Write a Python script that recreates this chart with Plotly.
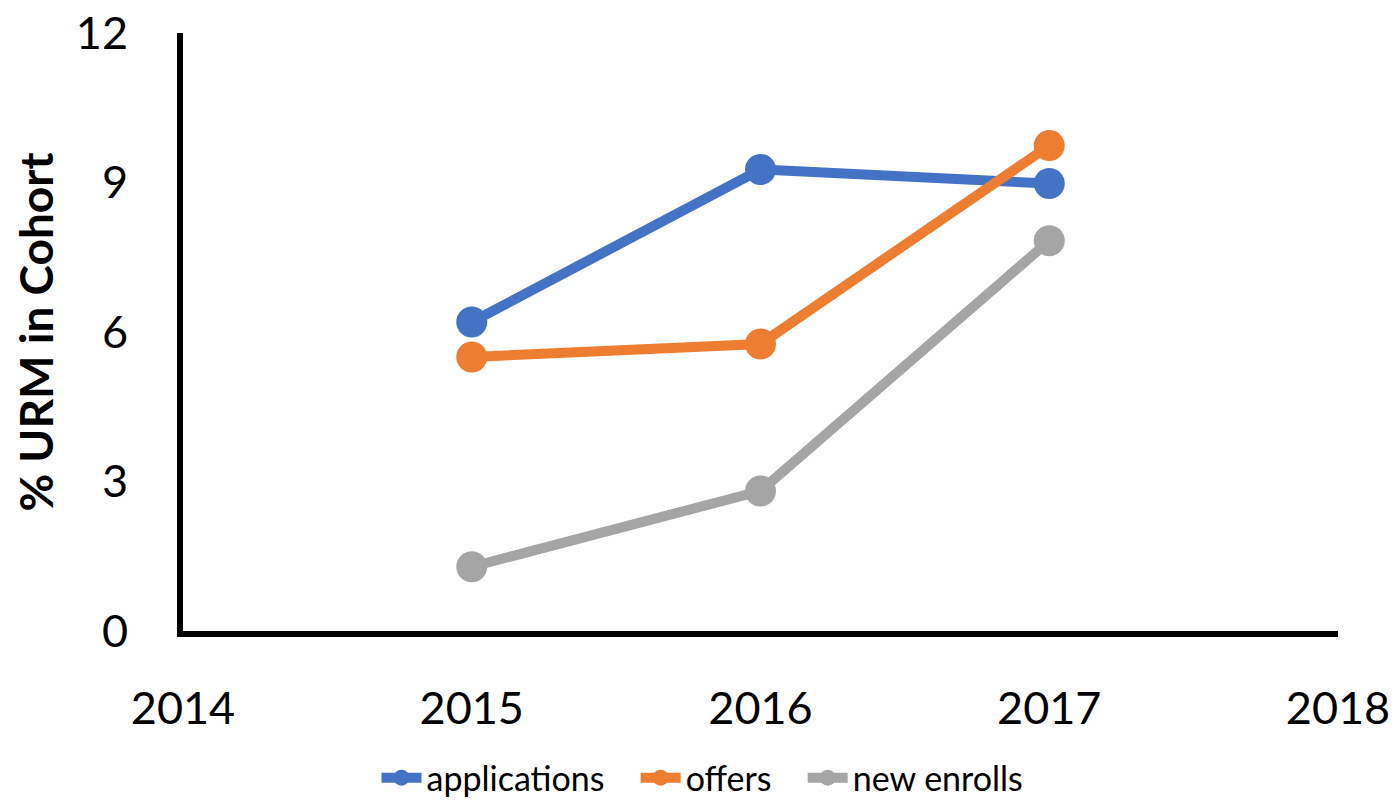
import plotly.graph_objects as go

years = [2015, 2016, 2017]
applications = [6.2, 9.26, 8.98]
offers = [5.5, 5.76, 9.74]
new_enrolls = [1.29, 2.81, 7.83]

series = [
    ("applications", applications, "#4472C4"),
    ("offers", offers, "#ED7D31"),
    ("new enrolls", new_enrolls, "#A5A5A5"),
]

NB = "\u00a0" * 3

fig = go.Figure()
for i, (name, vals, col) in enumerate(series):
    label = name + (NB if i < len(series) - 1 else "")
    fig.add_trace(go.Scatter(
        x=years, y=vals, name=label, mode="lines+markers",
        line=dict(color=col, width=10),
        marker=dict(color=col, size=31),
    ))

FONT = "Lato, 'Open Sans', sans-serif"
fig.update_layout(
    width=1389, height=794,
    margin=dict(l=175, r=59, t=25, b=171, autoexpand=False),
    plot_bgcolor="white", paper_bgcolor="white",
    font=dict(family=FONT, color="black"),
    showlegend=True,
    legend=dict(orientation="h", xref="container", x=0.5, xanchor="center",
                y=-0.246, yanchor="middle",
                font=dict(size=34, family=FONT, color="black"),
                itemwidth=40, traceorder="normal"),
    xaxis=dict(range=[2014, 2018], tickvals=[2014, 2015, 2016, 2017, 2018],
               showgrid=False, zeroline=False, showline=True, linecolor="black",
               linewidth=6, ticks="", tickfont=dict(size=45, family=FONT),
               ticklabelstandoff=33, ticklabeloverflow="allow"),
    yaxis=dict(range=[0, 12], tickvals=[0, 3, 6, 9, 12],
               showgrid=False, zeroline=False, showline=True, linecolor="black",
               linewidth=6, ticks="", tickfont=dict(size=45, family=FONT),
               ticklabelstandoff=40, ticklabeloverflow="allow",
               title=dict(text="<b>% URM in Cohort</b>", font=dict(size=46, family=FONT),
                          standoff=22)),
)

fig.write_html("out.html")
